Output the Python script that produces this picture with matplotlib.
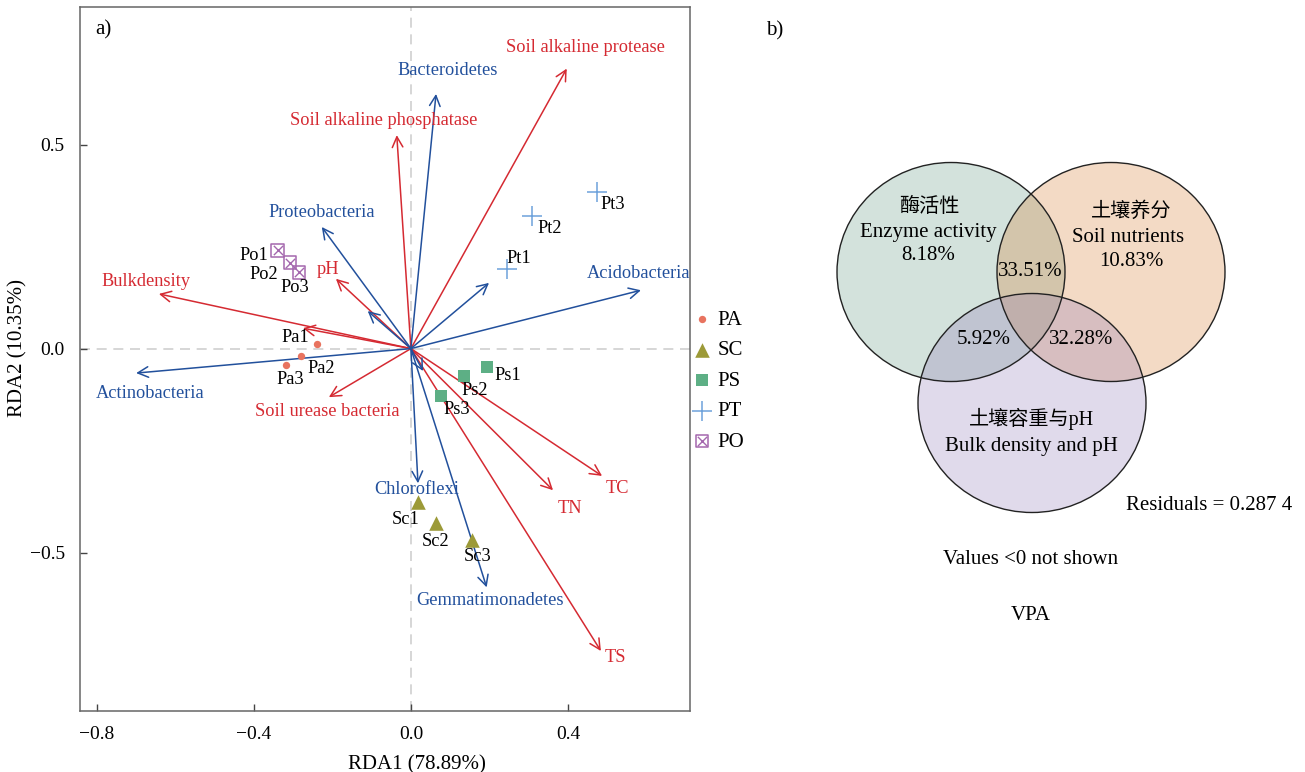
import matplotlib
matplotlib.use("Agg")
from matplotlib import pyplot as plt
from matplotlib.patches import Ellipse
from matplotlib.legend_handler import HandlerTuple

plt.rcParams['font.family'] = ['Liberation Serif', 'Noto Sans CJK SC']
plt.rcParams['axes.unicode_minus'] = True

# RDA biplot: environmental factors (red) and bacterial phyla (blue)
env_names = ['Soil alkaline protease', 'Soil alkaline phosphatase', 'Bulkdensity', 'pH',
             'Soil urease bacteria', 'TC', 'TN', 'TS', '']
env_x = [0.397, -0.036, -0.642, -0.191, -0.209, 0.487, 0.362, 0.484, -0.275]
env_y = [0.686, 0.523, 0.134, 0.171, -0.119, -0.312, -0.347, -0.741, 0.050]

phy_names = ['Bacteroidetes', 'Proteobacteria', 'Acidobacteria', 'Actinobacteria',
             'Chloroflexi', 'Gemmatimonadetes', '', '', '']
phy_x = [0.064, -0.227, 0.586, -0.700, 0.018, 0.193, 0.199, -0.110, 0.031]
phy_y = [0.624, 0.298, 0.143, -0.060, -0.330, -0.585, 0.161, 0.092, -0.055]

groups = ['PA', 'SC', 'PS', 'PT', 'PO']
sample_names = {
    'PA': ['Pa1', 'Pa2', 'Pa3'],
    'SC': ['Sc1', 'Sc2', 'Sc3'],
    'PS': ['Ps1', 'Ps2', 'Ps3'],
    'PT': ['Pt1', 'Pt2', 'Pt3'],
    'PO': ['Po1', 'Po2', 'Po3'],
}
sample_x = {
    'PA': [-0.239, -0.280, -0.318],
    'SC': [0.018, 0.064, 0.155],
    'PS': [0.194, 0.135, 0.076],
    'PT': [0.245, 0.308, 0.474],
    'PO': [-0.339, -0.308, -0.285],
}
sample_y = {
    'PA': [0.011, -0.018, -0.040],
    'SC': [-0.376, -0.428, -0.470],
    'PS': [-0.045, -0.067, -0.116],
    'PT': [0.195, 0.325, 0.383],
    'PO': [0.241, 0.210, 0.187],
}

# VPA fractions
vpa_zh = ['酶活性', '土壤养分', '土壤容重与pH']
vpa_en = ['Enzyme activity', 'Soil nutrients', 'Bulk density and pH']
vpa_unique = [8.18, 10.83]
vpa_shared = [33.51, 5.92, 32.28]  # enzyme&nutrient, enzyme&bulk, nutrient&bulk
residuals = 0.2874

# label offsets in pixels (dx, dy up)
env_off = [(19, 21), (-13, 15), (-13, 12), (-8, 9), (-2, -14), (15, -13), (17, -18), (14, -6), (0, 0)]
phy_off = [(12, 23), (0, 14), (-2, 17), (14, -20), (-1, -6), (3, -13), (0, 0), (0, 0), (0, 0)]
sample_off = {
    'PA': [(-22, 7), (20, -13), (4, -15)],
    'SC': [(-12, -17), (0, -18), (6, -16)],
    'PS': [(21, -9), (11, -15), (16, -14)],
    'PT': [(12, 11), (18, -13), (16, -12)],
    'PO': [(-24, -5), (-26, -12), (-4, -15)],
}

red = '#D52A32'
blue = '#22509C'
colors = {'PA': '#E8735F', 'SC': '#9C9A38', 'PS': '#5DAF85', 'PT': '#6EA2DB', 'PO': '#A467AE'}

fig = plt.figure(figsize=(13.05, 7.72), dpi=100)
ax = fig.add_axes([80 / 1305, 61 / 772, 610 / 1305, 704 / 772])

ax.axhline(0, color='#CFCFCF', lw=1.2, ls=(0, (6, 4)), zorder=0)
ax.axvline(0, color='#CFCFCF', lw=1.2, ls=(0, (6, 4)), zorder=0)

px = 0.72  # pixel -> point at 100 dpi
arrow = '->,head_length=0.75,head_width=0.38'
lfs = 13.2


def draw_vectors(xs, ys, names, offs, col):
    for x, y, n, (dx, dy) in zip(xs, ys, names, offs):
        ax.annotate('', xy=(x, y), xytext=(0, 0),
                    arrowprops=dict(arrowstyle=arrow, color=col, lw=1.1,
                                    shrinkA=0, shrinkB=0), zorder=2)
        if n:
            ax.annotate(n, xy=(x, y), xytext=(dx * px, dy * px), textcoords='offset points',
                        ha='center', va='center', color=col, fontsize=lfs, zorder=4)


draw_vectors(env_x, env_y, env_names, env_off, red)
draw_vectors(phy_x, phy_y, phy_names, phy_off, blue)

handles = []
for g in groups:
    xs, ys = sample_x[g], sample_y[g]
    c = colors[g]
    if g == 'PA':
        h = ax.scatter(xs, ys, s=28, marker='o', color=c, lw=0, zorder=3)
    elif g == 'SC':
        h = ax.scatter(xs, ys, s=110, marker='^', color=c, lw=0, zorder=3)
    elif g == 'PS':
        h = ax.scatter(xs, ys, s=70, marker='s', color=c, lw=0, zorder=3)
    elif g == 'PT':
        h = ax.scatter(xs, ys, s=190, marker='+', color=c, lw=1.1, zorder=3)
    else:
        h1 = ax.scatter(xs, ys, s=85, marker='s', facecolor='none', edgecolor=c, lw=1.1, zorder=3)
        h2 = ax.scatter(xs, ys, s=45, marker='x', color=c, lw=1.0, zorder=3)
        h = (h1, h2)
    handles.append(h)
    for x, y, n, (dx, dy) in zip(xs, ys, sample_names[g], sample_off[g]):
        ax.annotate(n, xy=(x, y), xytext=(dx * px, dy * px), textcoords='offset points',
                    ha='center', va='center', color='black', fontsize=lfs, zorder=4)

ax.set_xlim(-0.843, 0.711)
ax.set_ylim(-0.888, 0.837)
ax.set_xticks([-0.8, -0.4, 0.0, 0.4])
ax.set_yticks([-0.5, 0.0, 0.5])
ax.set_xticklabels(['\u22120.8', '\u22120.4', '0.0', '0.4'])
ax.set_yticklabels(['\u22120.5', '0.0', '0.5'])
ax.tick_params(direction='in', length=5, width=1, colors='#444444', labelcolor='black',
               labelsize=14, pad=11)
for s in ax.spines.values():
    s.set_color('#666666')
    s.set_linewidth(1.1)
ax.set_xlabel('RDA1 (78.89%)', fontsize=15)
ax.set_ylabel('RDA2 (10.35%)', fontsize=15)
ax.xaxis.set_label_coords(0.553, -0.063)
ax.yaxis.set_label_coords(-0.086, 0.515)
ax.text(0.025, 0.967, 'a)', transform=ax.transAxes, fontsize=15, va='center')

ax.legend(handles, groups, loc='upper left', bbox_to_anchor=(0.982, 0.587), frameon=False,
          fontsize=15, handletextpad=0.25, labelspacing=0.52, handlelength=1.0,
          borderaxespad=0.2, handler_map={tuple: HandlerTuple(ndivide=1, pad=0)})

# Venn diagram of variance partitioning
vx = fig.add_axes([760 / 1305, 0, 545 / 1305, 1])
vx.set_xlim(760, 1305)
vx.set_ylim(772, 0)
vx.axis('off')

circles = [((951, 272), '#58907A'), ((1111, 272), '#D47320'), ((1032, 403), '#8A70B2')]
for (cx, cy), c in circles:
    vx.add_patch(Ellipse((cx, cy), 228, 219, facecolor=c, alpha=0.26, edgecolor='none'))
for (cx, cy), c in circles:
    vx.add_patch(Ellipse((cx, cy), 228, 219, facecolor='none', edgecolor='#222222', lw=1.0))

vfs = 15
vx.text(929, 207, vpa_zh[0], ha='center', va='center', fontsize=vfs - 0.5)
vx.text(928, 232, vpa_en[0], ha='center', va='center', fontsize=vfs)
vx.text(928, 256, f'{vpa_unique[0]:.2f}%', ha='center', va='center', fontsize=vfs)
vx.text(1131, 212, vpa_zh[1], ha='center', va='center', fontsize=vfs - 0.5)
vx.text(1128, 237, vpa_en[1], ha='center', va='center', fontsize=vfs)
vx.text(1131, 261, f'{vpa_unique[1]:.2f}%', ha='center', va='center', fontsize=vfs)
vx.text(1030, 272, f'{vpa_shared[0]:.2f}%', ha='center', va='center', fontsize=vfs)
vx.text(984, 339, f'{vpa_shared[1]:.2f}%', ha='center', va='center', fontsize=vfs)
vx.text(1081, 339, f'{vpa_shared[2]:.2f}%', ha='center', va='center', fontsize=vfs)
vx.text(1031, 419, vpa_zh[2], ha='center', va='center', fontsize=vfs - 0.5)
vx.text(1031, 447, vpa_en[2], ha='center', va='center', fontsize=vfs)
vx.text(1292, 505, 'Residuals = ' + f'{residuals:.4f}'[:5] + ' ' + f'{residuals:.4f}'[5:],
        ha='right', va='center', fontsize=vfs)
vx.text(1031, 560, 'Values <0 not shown', ha='center', va='center', fontsize=vfs)
vx.text(1031, 616, 'VPA', ha='center', va='center', fontsize=vfs)
vx.text(766, 31, 'b)', ha='left', va='center', fontsize=15)

fig.savefig('out.png', dpi=100)
